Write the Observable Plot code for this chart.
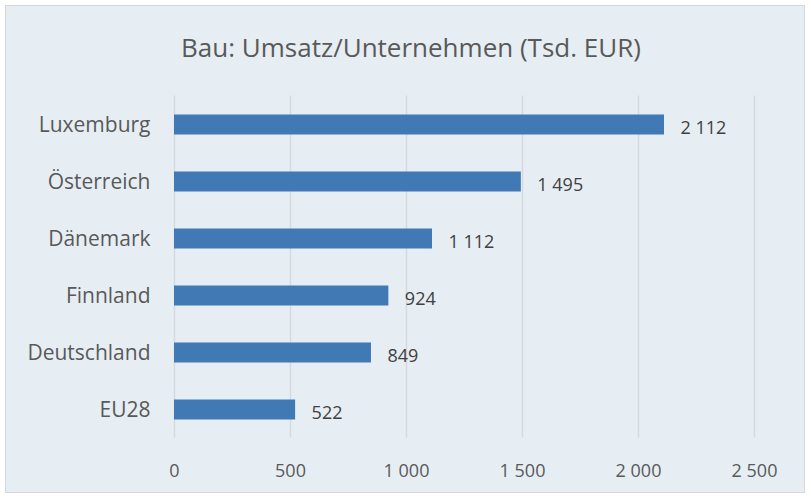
<!DOCTYPE html>
<html>
<head>
<meta charset="utf-8">
<script src="https://cdn.jsdelivr.net/npm/d3@7"></script>
<script src="https://cdn.jsdelivr.net/npm/@observablehq/plot@0.6"></script>
<style>
  body { margin: 0; background: #ffffff; }
  #wrap { position: relative; width: 811px; height: 497px; overflow: hidden; }
  #frame { position: absolute; left: 5px; top: 5px; width: 800px; height: 488px; background: #e6eef4; border: 1px solid #d4d8dc; box-sizing: border-box; }
  #title { position: absolute; left: 0; width: 822px; top: 29px; text-align: center; font-family: "Open Sans", sans-serif; font-size: 26px; color: #595959; }
  #chart { position: absolute; left: 0; top: 0; }
</style>
</head>
<body>
<div id="wrap">
  <div id="frame"></div>
  <div id="title">Bau: Umsatz/Unternehmen (Tsd. EUR)</div>
  <div id="chart"></div>
</div>
<script>
const countries = ["Luxemburg", "Österreich", "Dänemark", "Finnland", "Deutschland", "EU28"];
const values = [2112, 1495, 1112, 924, 849, 522];
const xTicks = [0, 500, 1000, 1500, 2000, 2500];

const data = countries.map((c, i) => ({country: c, value: values[i]}));
const fmt = d3.formatLocale({decimal: ",", thousands: " ", grouping: [3], currency: ["", "€"]}).format(",d");

const chart = Plot.plot({
  width: 811,
  height: 497,
  marginLeft: 174,
  marginRight: 57,
  marginTop: 95.5,
  marginBottom: 59.5,
  style: {background: "transparent", fontFamily: "'Open Sans', sans-serif", color: "#595959"},
  x: {domain: [0, 2500], ticks: xTicks, tickFormat: fmt},
  y: {domain: countries, padding: 0},
  marks: [
    Plot.gridX(xTicks, {stroke: "#d5d9dd", strokeOpacity: 1, strokeWidth: 1.5}),
    Plot.barX(data, {x: "value", y: "country", fill: "#4179b5", insetTop: 18.5, insetBottom: 18.5}),
    Plot.text(data, {x: "value", y: "country", text: d => fmt(d.value), dx: 16, dy: 3, textAnchor: "start", fontSize: 18, fill: "#404040"}),
    Plot.axisX(xTicks, {tickSize: 0, tickPadding: 26, fontSize: 18, letterSpacing: 1, tickFormat: fmt, label: null, fill: "#595959"}),
    Plot.axisY({tickSize: 0, tickPadding: 24, fontSize: 21, label: null, fill: "#595959"})
  ]
});
document.getElementById("chart").appendChild(chart);
</script>
</body>
</html>
